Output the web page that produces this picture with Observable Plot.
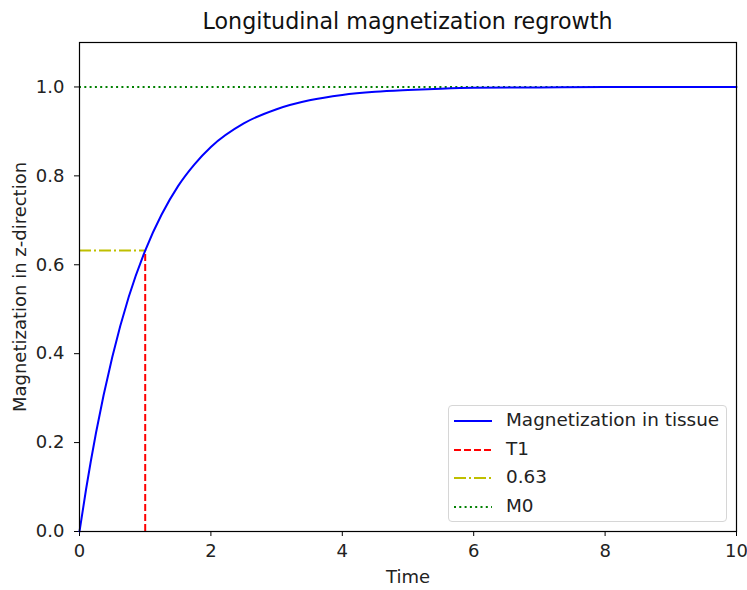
<!DOCTYPE html>
<html><head><meta charset="utf-8">
<script src="https://cdn.jsdelivr.net/npm/d3@7"></script>
<script src="https://cdn.jsdelivr.net/npm/@observablehq/plot@0.6"></script>
<style>
body{margin:0;background:#fff;font-family:"DejaVu Sans",sans-serif;}
#wrap{position:relative;width:747px;height:590px;}
#title{position:absolute;left:0;width:815px;top:8px;text-align:center;font-size:22.2px;color:#111;z-index:5;white-space:nowrap;}
#legend{position:absolute;left:448px;top:405px;width:279px;height:117px;border:1px solid #d6d6d6;border-radius:4px;background:rgba(255,255,255,0.8);box-sizing:border-box;z-index:5;}
.row{position:absolute;left:0;height:20px;font-size:18.4px;color:#222;}
.row svg{position:absolute;left:4px;top:0;}
.row span{position:absolute;left:57px;top:-1px;white-space:nowrap;line-height:20px;}
</style></head>
<body><div id="wrap"></div>
<script>
// Curve
const time = [0,0.1,0.25,0.5,0.75,1,1.25,1.5,1.75,2,2.5,3,3.5,4,4.5,5,5.5,6,7,8,9,10];
const magnetization = [0,0.095,0.221,0.393,0.528,0.632,0.713,0.777,0.826,0.865,0.918,0.950,0.970,0.982,0.989,0.993,0.996,0.998,0.999,1.0,1.0,1.0];
const T1 = 1;
const level063 = 0.632;
const M0 = 1.0;
const xTicks = [0,2,4,6,8,10];
const yTicks = [0,0.2,0.4,0.6,0.8,1.0];
const legendLabels = ["Magnetization in tissue","T1","0.63","M0"];
const colors = ["#0000ff","#ff0000","#bfbf00","#008000"];
const dashes = [null,"7,3","12,3,2,3","2,3.3"];
const titleText = "Longitudinal magnetization regrowth";

const curve = time.map((t,i)=>({t, m: magnetization[i]}));

const chart = Plot.plot({
  width: 747, height: 590,
  marginLeft: 79, marginRight: 11, marginTop: 42, marginBottom: 59,
  style: {fontFamily: "DejaVu Sans, sans-serif", fontSize: "18px", color: "#222", background: "#fff"},
  x: {domain: [0,10], ticks: xTicks, tickFormat: d3.format("d"), label: "Time", labelAnchor: "center", labelArrow: "none", labelOffset: 51, tickSize: 5, tickPadding: 8},
  y: {domain: [0,1.1], ticks: yTicks, tickFormat: d3.format(".1f"), label: "Magnetization in z-direction", labelAnchor: "center", labelArrow: "none", labelOffset: 66, tickSize: 5, tickPadding: 10},
  marks: [
    Plot.ruleY([M0], {x1: 0, x2: 10, stroke: colors[3], strokeWidth: 2, strokeDasharray: dashes[3]}),
    Plot.ruleX([T1], {y1: 0, y2: level063, stroke: colors[1], strokeWidth: 2, strokeDasharray: dashes[1]}),
    Plot.ruleY([level063], {x1: 0, x2: T1, stroke: colors[2], strokeWidth: 2, strokeDasharray: dashes[2]}),
    Plot.line(curve, {x: "t", y: "m", stroke: colors[0], strokeWidth: 2, curve: "monotone-x"}),
    Plot.frame({stroke: "black", strokeWidth: 1.2})
  ]
});
const wrap = document.getElementById("wrap");
wrap.appendChild(chart);
chart.style.position = "absolute"; chart.style.left = "0"; chart.style.top = "0";
d3.select(chart).selectAll("g[aria-label$='tick'] path").attr("stroke","#000");

const title = document.createElement("div"); title.id = "title"; title.textContent = titleText;
wrap.appendChild(title);

const leg = document.createElement("div"); leg.id = "legend";
legendLabels.forEach((lab,i)=>{
  const r = document.createElement("div"); r.className = "row"; r.style.top = (5 + i*28.5) + "px";
  r.innerHTML = `<svg width="40" height="20"><line x1="1" x2="39" y1="10" y2="10" stroke="${colors[i]}" stroke-width="2" ${dashes[i]?`stroke-dasharray="${dashes[i]}"`:""}/></svg><span>${lab}</span>`;
  leg.appendChild(r);
});
wrap.appendChild(leg);
</script></body></html>
